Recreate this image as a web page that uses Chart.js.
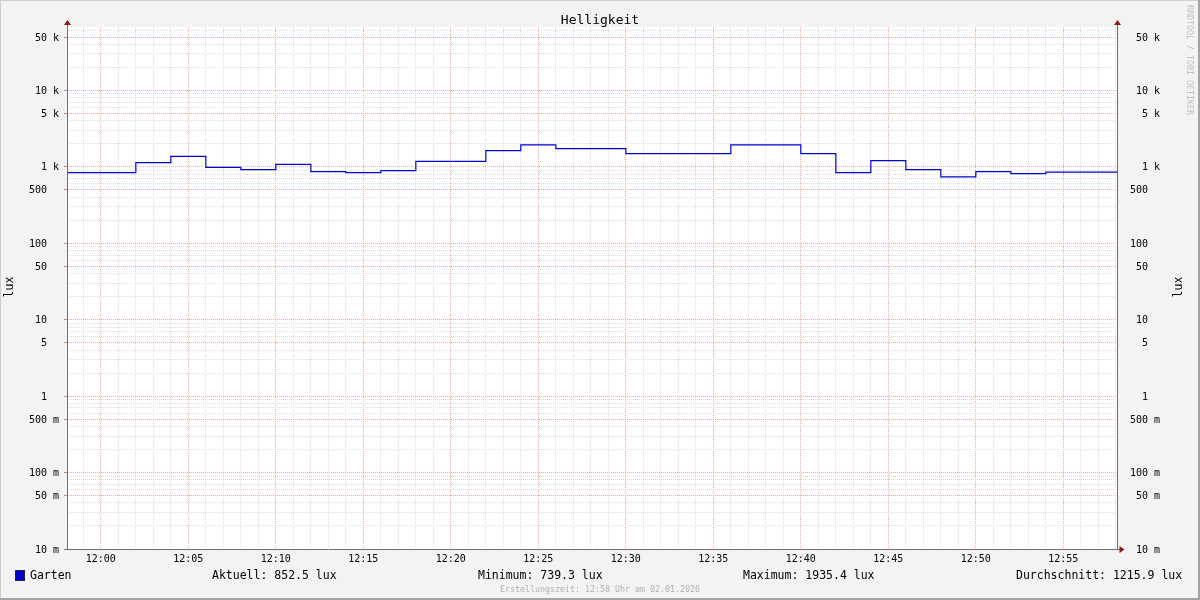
<!DOCTYPE html>
<html><head><meta charset="utf-8">
<script src="https://cdn.jsdelivr.net/npm/chart.js@4.4.1/dist/chart.umd.min.js"></script>
<style>
html,body{margin:0;padding:0;background:#f3f3f3;}
#wrap{position:relative;width:1200px;height:600px;overflow:hidden;}
canvas{position:absolute;left:0;top:0;}
.t{position:absolute;font-family:'DejaVu Sans Mono',monospace;white-space:pre;color:#000;line-height:14px;height:14px;}
.lg{font-size:11.5px;top:568px;}
#sq{position:absolute;left:15px;top:570px;width:8px;height:9px;background:#0000cc;border:1px solid #202050;}
#foot{font-size:8.3px;color:#b0b0b0;left:0;width:1200px;text-align:center;top:582px;}
#wm{position:absolute;left:1185px;top:5px;font-family:'DejaVu Sans Mono',monospace;font-size:8.3px;color:#c0c0c0;writing-mode:vertical-rl;white-space:pre;}
.yl{font-size:11.5px;width:40px;text-align:center;transform:rotate(-90deg);top:280px;}
</style></head><body>
<div id="wrap">
<canvas id="c" width="1200" height="600"></canvas>
<div class="t yl" id="ylL" style="left:-11px;">lux</div>
<div class="t yl" id="ylR" style="left:1158px;">lux</div>
<div id="sq"></div>
<div class="t lg" id="lgName" style="left:30px;"></div>
<div class="t lg" id="lgCur" style="left:212px;"></div>
<div class="t lg" id="lgMin" style="left:478px;"></div>
<div class="t lg" id="lgMax" style="left:743px;"></div>
<div class="t lg" id="lgAvg" style="left:1016px;"></div>
<div class="t" id="foot"></div>
<div id="wm"></div>
</div>
<script>
// ---- data ----
const chartTitle = "Helligkeit";
const seriesName = "Garten";
const unit = "lux";
const stepStarts = ["11:58","12:00","12:02","12:04","12:06","12:08","12:10","12:12","12:14","12:16",
                    "12:18","12:20","12:22","12:24","12:26","12:28","12:30","12:32","12:34","12:36",
                    "12:38","12:40","12:42","12:44","12:46","12:48","12:50","12:52","12:54","12:56"];
const luxValues = [840,840,1135,1371,985,919,1078,865,840,892,
                   1180,1180,1629,1935,1729,1729,1487,1487,1487,1935,
                   1935,1487,840,1205,919,739,865,815,852,852];
const endTime = "12:58";
const viewStart = "11:58:04";
const viewEnd = "12:58:04";
const xLabelTimes = ["12:00","12:05","12:10","12:15","12:20","12:25","12:30","12:35","12:40","12:45","12:50","12:55"];
const yLabelValues = [0.01,0.05,0.1,0.5,1,5,10,50,100,500,1000,5000,10000,50000];
const yMin = 0.01, yMax = 67600;
const statCurrent = "852.5", statMin = "739.3", statMax = "1935.4", statAvg = "1215.9";
const footerText = "Erstellungszeit: 12:58 Uhr am 02.01.2026";
const watermark = "RRDTOOL / TOBI OETIKER";

// ---- helpers ----
function toMin(s){ const p = s.split(':').map(Number); return (p[0]-12)*60 + p[1] + (p[2]||0)/60; }
function fmtTime(v){ const t = Math.round(v); const h = 12 + Math.floor(t/60); const m = ((t%60)+60)%60; return String(h).padStart(2,'0')+':'+String(m).padStart(2,'0'); }
function mant(v){ const e = Math.floor(Math.log10(v)+1e-9); return Math.round(v/Math.pow(10,e)); }
function fmtLux(v){
  if (!yLabelValues.some(l => Math.abs(l - v)/l < 1e-6)) return '';
  let s;
  if (v >= 1000) s = String(Math.round(v/1000)) + ' k';
  else if (v >= 1) s = String(Math.round(v)) + '  ';
  else s = String(Math.round(v*1000)) + ' m';
  return s.padStart(5,' ');
}
const xLabelMins = xLabelTimes.map(toMin);
const pts = stepStarts.map((t,i)=>({x: toMin(t), y: luxValues[i]}));
pts.push({x: toMin(endTime), y: luxValues[luxValues.length-1]});
pts.push({x: toMin(viewEnd), y: luxValues[luxValues.length-1]});

const RED = '#eeaaaa', GREY = '#dedede';
function isMajorY(c){ return c.tick && (mant(c.tick.value)===1 || mant(c.tick.value)===5); }
function isMajorX(c){ return c.tick && xLabelMins.some(m=>Math.abs(m-c.tick.value)<1e-6); }
function yTicks(scale){
  const arr = [];
  for (let e=-2; e<=4; e++) for (let m=1; m<=9; m++){ const v = Number((m*Math.pow(10,e)).toPrecision(3)); if (v>=yMin && v<=yMax) arr.push({value:v}); }
  scale.ticks = arr;
}
function xTicks(scale){
  const arr = [];
  const a = Math.ceil(toMin(viewStart)), b = Math.floor(toMin(viewEnd));
  for (let v=a; v<=b; v++) arr.push({value:v});
  scale.ticks = arr;
}

document.getElementById('lgName').textContent = seriesName;
document.getElementById('lgCur').textContent = 'Aktuell: ' + statCurrent + ' ' + unit;
document.getElementById('lgMin').textContent = 'Minimum: ' + statMin + ' ' + unit;
document.getElementById('lgMax').textContent = 'Maximum: ' + statMax + ' ' + unit;
document.getElementById('lgAvg').textContent = 'Durchschnitt: ' + statAvg + ' ' + unit;
document.getElementById('foot').textContent = footerText;
document.getElementById('wm').textContent = watermark;
document.getElementById('ylL').textContent = unit;
document.getElementById('ylR').textContent = unit;

const frame = {
  id:'frame',
  beforeDraw(chart){
    const {ctx, chartArea:a} = chart;
    ctx.save();
    ctx.fillStyle='#f3f3f3'; ctx.fillRect(0,0,1200,600);
    ctx.fillStyle='#ffffff'; ctx.fillRect(a.left,a.top,a.right-a.left,a.bottom-a.top);
    ctx.fillStyle='#cfcfcf'; ctx.fillRect(0,0,1200,1); ctx.fillRect(0,0,1,600);
    ctx.fillStyle='#a3a3a3'; ctx.fillRect(0,598,1200,2); ctx.fillRect(1198,0,2,600);
    ctx.restore();
  },
  afterDraw(chart){
    const {ctx, chartArea:a} = chart;
    const L = Math.round(a.left)+0.5, R = Math.round(a.right)+0.5, B = Math.round(a.bottom)+0.5, T = Math.round(a.top);
    ctx.save();
    ctx.strokeStyle='#6e6e6e'; ctx.lineWidth=1;
    ctx.beginPath();
    ctx.moveTo(L, B); ctx.lineTo(L, T-3);
    ctx.moveTo(R, B); ctx.lineTo(R, T-3);
    ctx.moveTo(L-3, B); ctx.lineTo(R+3, B);
    ctx.stroke();
    ctx.fillStyle='#8b1a1a';
    const up = (x)=>{ ctx.beginPath(); ctx.moveTo(x-3.5, T-2); ctx.lineTo(x+3.5, T-2); ctx.lineTo(x, T-7); ctx.closePath(); ctx.fill(); };
    up(L); up(R);
    ctx.beginPath(); ctx.moveTo(R+2, B-3.5); ctx.lineTo(R+2, B+3.5); ctx.lineTo(R+7, B); ctx.closePath(); ctx.fill();
    ctx.restore();
  }
};

Chart.defaults.font.family = "'DejaVu Sans Mono', monospace";
Chart.defaults.color = '#000';

new Chart(document.getElementById('c'), {
  type:'line',
  data:{ datasets:[{ label: seriesName, data: pts, borderColor:'#0000cc', borderWidth:1.2, pointRadius:0, stepped:true, fill:false, tension:0 }] },
  options:{
    responsive:false, animation:false, devicePixelRatio:1,
    layout:{ padding:0 },
    plugins:{
      legend:{display:false}, tooltip:{enabled:false},
      title:{ display:true, text: chartTitle, color:'#000', font:{size:13, weight:'normal', lineHeight:'13px'}, padding:{top:14,bottom:0} }
    },
    scales:{
      x:{
        type:'linear', position:'bottom', min: toMin(viewStart), max: toMin(viewEnd),
        afterBuildTicks: xTicks,
        afterFit(s){ s.height = 51; },
        ticks:{ autoSkip:false, maxRotation:0, padding:4, font:{size:10}, color:'#000',
          callback:(v)=> xLabelMins.some(m=>Math.abs(m-v)<1e-6) ? fmtTime(v) : '' },
        grid:{ drawTicks:false, lineWidth:1, color:(c)=> isMajorX(c) ? RED : GREY },
        border:{ display:false, dash:[1,1] }
      },
      y:{
        type:'logarithmic', position:'left', min:yMin, max:yMax,
        afterBuildTicks: yTicks,
        afterFit(s){ s.width = 67; },
        ticks:{ autoSkip:false, padding:5, labelOffset:1, font:{size:10}, color:'#000', callback:(v)=>fmtLux(v) },
        grid:{ drawTicks:true, tickLength:3, lineWidth:1,
          color:(c)=> isMajorY(c) ? RED : GREY,
          tickColor:(c)=> isMajorY(c) ? '#d08080' : 'rgba(0,0,0,0)' },
        border:{ display:false, dash:[1,1] }
      },
      y2:{
        type:'logarithmic', position:'right', min:yMin, max:yMax,
        afterBuildTicks: yTicks,
        afterFit(s){ s.width = 83; },
        ticks:{ autoSkip:false, padding:13, labelOffset:1, font:{size:10}, color:'#000', callback:(v)=>fmtLux(v) },
        grid:{ drawOnChartArea:false, drawTicks:false },
        border:{ display:false }
      }
    }
  },
  plugins:[frame]
});
</script>
</body></html>
